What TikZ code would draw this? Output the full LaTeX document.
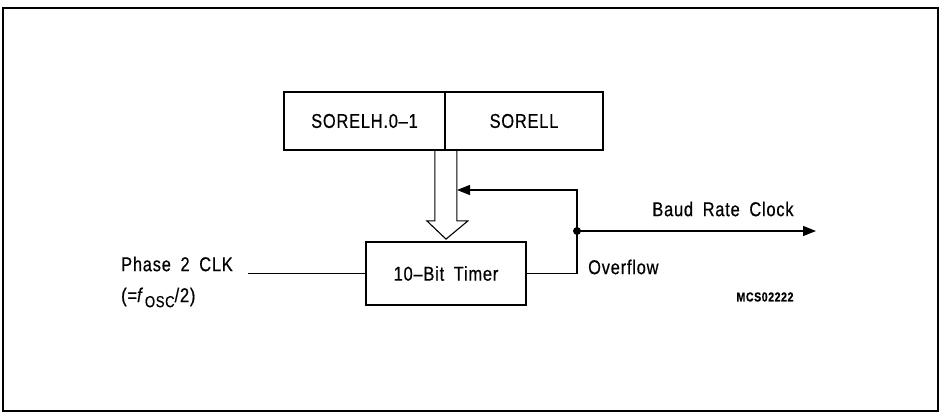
\documentclass[tikz,border=0pt]{standalone}
\usepackage{fontspec}
\setmainfont{Liberation Sans}[FakeStretch=0.82, LetterSpace=4, WordSpace=1.8, FakeBold=0.5]
\usetikzlibrary{arrows.meta,calc}
\tikzset{
  regbox/.style={draw, line width=1.8pt, minimum height=58pt, inner sep=0pt},
  wire/.style={line width=1.1pt},
  tip/.style={-{Triangle[length=13pt,width=10pt]}},
  lbl/.style={inner sep=0pt, font=\fontsize{20}{24}\selectfont}
}
\begin{document}
\begin{tikzpicture}[x=1pt,y=-1pt]
\useasboundingbox (0,0) rectangle (943,417);
\draw[line width=2pt] (3,8) rectangle (938,411);
% reload registers
\node[regbox, minimum width=161pt, lbl] (hreg) at (364.5,121) {SORELH.0--1};
\node[regbox, minimum width=158pt, lbl] (lreg) at (524,121) {SORELL};
% timer
\node[regbox, minimum width=160pt, minimum height=63pt, lbl] (timer) at (446,273.5) {10--Bit Timer};
% hollow load arrow
\draw[wire] ($(hreg.south east)+(-11,0)$) -- ++(0,70) -- ++(-8,0)
  -- ($(timer.north)+(0,-2)$) -- ($(hreg.south east)+(22,70)$) -- ++(-11,0)
  -- ($(hreg.south east)+(11,0)$);
% clock input
\node[lbl, align=left, anchor=west, font=\fontsize{20}{31}\selectfont] (clk) at (121,282)
  {Phase 2 CLK\\(={\itshape f}\,{\fontsize{16}{20}\selectfont\raisebox{-5pt}{OSC}}/2)};
\coordinate (clkin) at (248,273.5);
\draw[wire] (clkin) -- (timer.west);
% overflow and reload feedback
\coordinate (fbtop) at (577,190);
\coordinate (fbend) at (457,190);
\coordinate (junc) at (577,231);
\coordinate (baudend) at (816,231);
\draw[wire, tip] (timer.east) -| (fbtop) -- (fbend);
\fill (junc) circle (4pt);
\draw[wire, tip] (junc) -- (baudend);
\node[lbl] (baud) at (723,209) {Baud Rate Clock};
\node[lbl, anchor=west] (ovf) at (588,267) {Overflow};
\node[inner sep=0pt, font=\fontsize{13}{15}\selectfont\bfseries] (mcs) at (765,297) {MCS02222};
\end{tikzpicture}
\end{document}
